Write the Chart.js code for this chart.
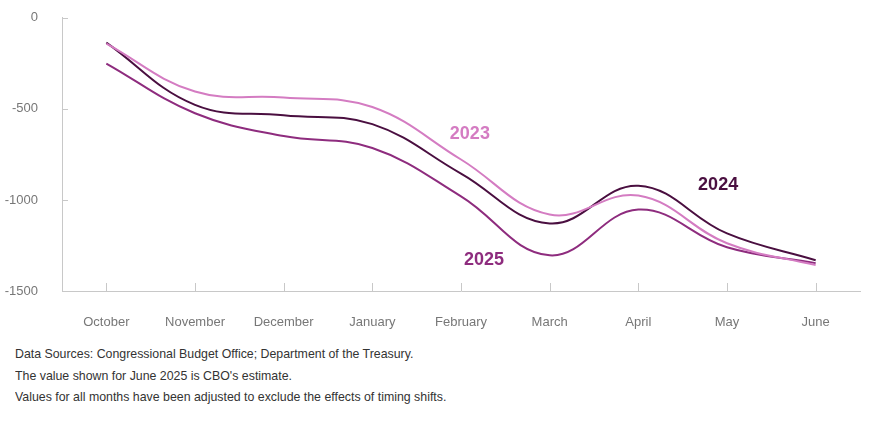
<!DOCTYPE html>
<html lang="en">
<head>
    <meta charset="UTF-8">
    <title>Cumulative deficit by month</title>
    <style>
        body { margin: 0; background: #fff; font-family: "Liberation Sans", Arial, sans-serif; }
        .chart-box { position: relative; width: 872px; height: 346px; margin-top: -6px; }
        .notes { margin: 3px 0 0 15px; font-size: 13px; line-height: 21.5px; color: #333;
                 transform: scaleX(0.95); transform-origin: left top; white-space: nowrap; }
    </style>
</head>
<body>
    <div class="chart-box">
        <canvas id="deficitChart"></canvas>
    </div>
    <div class="notes">
        <div>Data Sources: Congressional Budget Office; Department of the Treasury.</div>
        <div>The value shown for June 2025 is CBO's estimate.</div>
        <div>Values for all months have been adjusted to exclude the effects of timing shifts.</div>
    </div>

    <script src="https://cdn.jsdelivr.net/npm/chart.js"></script>
    <script>
        const months = ["October", "November", "December", "January", "February", "March", "April", "May", "June"];
        const yTicks = [0, -500, -1000, -1500];

        const fy2023 = [-142, -405, -438, -490, -778, -1080, -976, -1238, -1358];
        const fy2024 = [-136, -478, -535, -584, -855, -1129, -922, -1184, -1331];
        const fy2025 = [-251, -524, -649, -715, -980, -1304, -1053, -1260, -1347];

        const colors = { y2023: "#d47cc2", y2024: "#4a0f40", y2025: "#8e2c7e" };

        // inward tick marks on both axes
        const innerTicks = {
            id: "innerTicks",
            afterDraw(chart) {
                const ctx = chart.ctx;
                const x = chart.scales.x, y = chart.scales.y;
                ctx.save();
                ctx.strokeStyle = "#c8c8c8";
                ctx.lineWidth = 1;
                ctx.beginPath();
                x.ticks.forEach((t, i) => {
                    const px = Math.round(x.getPixelForTick(i)) + 0.5;
                    ctx.moveTo(px, y.bottom);
                    ctx.lineTo(px, y.bottom - 8);
                });
                y.ticks.forEach((t, i) => {
                    const py = Math.round(y.getPixelForTick(i)) + 0.5;
                    ctx.moveTo(x.left, py);
                    ctx.lineTo(x.left + 6, py);
                });
                ctx.stroke();
                ctx.restore();
            }
        };

        // year labels next to lines
        const seriesLabels = {
            id: "seriesLabels",
            afterDatasetsDraw(chart) {
                const ctx = chart.ctx;
                const x = chart.scales.x, y = chart.scales.y;
                const labels = [
                    { text: "2023", at: 4.10, val: -638, color: colors.y2023 },
                    { text: "2024", at: 6.90, val: -917, color: colors.y2024 },
                    { text: "2025", at: 4.26, val: -1331, color: colors.y2025 }
                ];
                ctx.save();
                ctx.font = "bold 18px 'Liberation Sans', Arial, sans-serif";
                ctx.textAlign = "center";
                ctx.textBaseline = "middle";
                labels.forEach(l => {
                    ctx.fillStyle = l.color;
                    ctx.fillText(l.text, x.getPixelForValue(l.at), y.getPixelForValue(l.val));
                });
                ctx.restore();
            }
        };

        function line(label, data, color) {
            return {
                label: label,
                data: data,
                borderColor: color,
                borderWidth: 2,
                pointRadius: 0,
                fill: false,
                tension: 0.4
            };
        }

        window.onload = function() {
            const ctx = document.getElementById("deficitChart").getContext("2d");
            new Chart(ctx, {
                type: "line",
                data: {
                    labels: months,
                    datasets: [
                        line("2023", fy2023, colors.y2023),
                        line("2024", fy2024, colors.y2024),
                        line("2025", fy2025, colors.y2025)
                    ]
                },
                options: {
                    responsive: true,
                    maintainAspectRatio: false,
                    animation: false,
                    layout: { padding: { top: 10, right: 12, left: 0, bottom: 0 } },
                    plugins: { legend: { display: false }, tooltip: { enabled: false } },
                    scales: {
                        x: {
                            offset: true,
                            grid: { display: false },
                            border: { color: "#c8c8c8" },
                            ticks: { color: "#777", padding: 16, font: { size: 13, family: "'Liberation Sans', Arial" } },
                            afterFit: s => { s.height = 49; }
                        },
                        y: {
                            min: -1500,
                            max: 0,
                            grid: { display: false },
                            border: { color: "#c8c8c8" },
                            afterBuildTicks: s => { s.ticks = yTicks.map(v => ({ value: v })); },
                            ticks: {
                                color: "#777", padding: 16,
                                font: { size: 13, family: "'Liberation Sans', Arial" },
                                callback: v => String(v)
                            },
                            afterFit: s => { s.width = 62; }
                        }
                    }
                },
                plugins: [innerTicks, seriesLabels]
            });
        };
    </script>
</body>
</html>
